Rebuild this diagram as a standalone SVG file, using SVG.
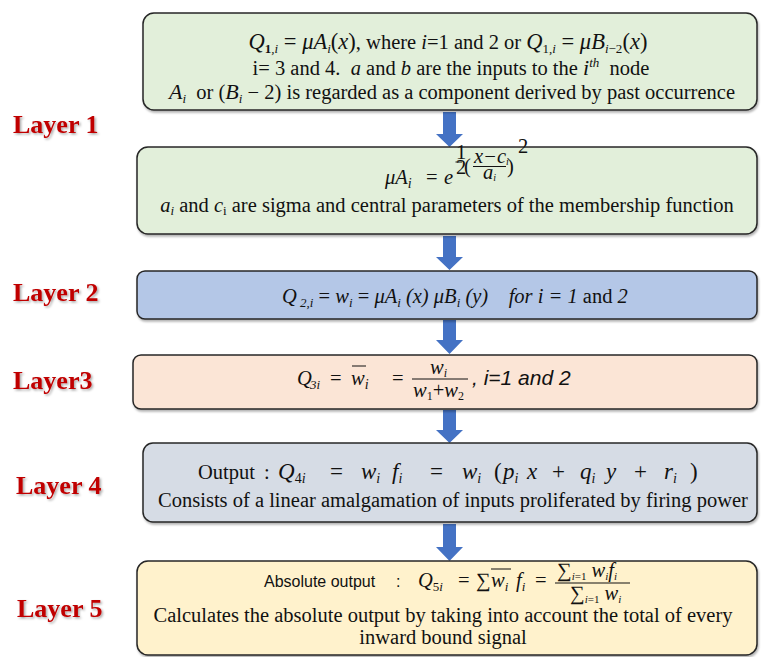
<svg xmlns="http://www.w3.org/2000/svg" width="764" height="657" viewBox="0 0 764 657">
<defs>
<filter id="sh" x="-10%" y="-20%" width="130%" height="150%">
<feDropShadow dx="1.5" dy="1.5" stdDeviation="1" flood-color="#000" flood-opacity="0.35"/>
</filter>
<filter id="bs" x="-5%" y="-10%" width="110%" height="130%">
<feDropShadow dx="1" dy="2" stdDeviation="1" flood-color="#000" flood-opacity="0.3"/>
</filter>
</defs>
<style>
.box{stroke:#262626;stroke-width:1.5;filter:url(#bs)}
.lay{font-family:"Liberation Serif",serif;font-weight:bold;font-size:26px;fill:#c00000;filter:url(#sh)}
.t{font-family:"Liberation Serif",serif;font-size:20.5px;fill:#111}
.m{font-family:"Liberation Serif",serif;font-style:italic}
.s{font-size:13px}
.arr{fill:#4472c4}
.bar{stroke:#111;stroke-width:1}
</style>
<rect width="764" height="657" fill="#fff"/>

<g id="labels">
<text class="lay" x="13" y="133">Layer 1</text>
<text class="lay" x="13" y="301">Layer 2</text>
<text class="lay" x="13" y="389">Layer3</text>
<text class="lay" x="16" y="494">Layer 4</text>
<text class="lay" x="17" y="617">Layer 5</text>
</g>

<g id="connectors">
<polygon class="arr" points="443,112 456,112 456,134 463,134 449.5,147 436,134 443,134"/>
<polygon class="arr" points="443,236 456,236 456,257 463,257 449.5,270 436,257 443,257"/>
<polygon class="arr" points="443,320 456,320 456,340 463,340 449.5,354 436,340 443,340"/>
<polygon class="arr" points="443,410 456,410 456,430 463,430 449.5,443 436,430 443,430"/>
<polygon class="arr" points="443,524 456,524 456,547 463,547 449.5,561 436,547 443,547"/>
</g>

<g id="node1">
<rect class="box" x="143" y="13" width="614" height="97" rx="11" fill="#e2efda"/>
<text class="t" font-size="21" x="448" y="49" text-anchor="middle" xml:space="preserve"><tspan class="m" font-size="22.5">Q</tspan><tspan class="s" dy="4" font-weight="bold">1</tspan><tspan class="s m">,i</tspan><tspan dy="-4" font-size="22.5"> = </tspan><tspan class="m" font-size="22.5">μA</tspan><tspan class="s m" dy="4">i</tspan><tspan dy="-4" font-size="22.5">(</tspan><tspan class="m" font-size="22.5">x</tspan><tspan font-size="22.5">)</tspan>, where <tspan class="m">i</tspan>=1 and 2 or <tspan class="m" font-size="22.5">Q</tspan><tspan class="s" dy="4">1,</tspan><tspan class="s m">i</tspan><tspan dy="-4" font-size="22.5"> = </tspan><tspan class="m" font-size="22.5">μB</tspan><tspan class="s m" dy="4">i</tspan><tspan class="s">−2</tspan><tspan dy="-4" font-size="22.5">(</tspan><tspan class="m" font-size="22.5">x</tspan><tspan font-size="22.5">)</tspan></text>
<text class="t" x="451" y="75" text-anchor="middle" xml:space="preserve">i= 3 and 4.  <tspan class="m">a</tspan> and <tspan class="m">b</tspan> are the inputs to the <tspan class="m" font-size="22">i</tspan><tspan class="s m" dy="-8">th</tspan><tspan dy="8">  node</tspan></text>
<text class="t" x="452" y="99" text-anchor="middle" xml:space="preserve"><tspan class="m" font-size="22">A</tspan><tspan class="s m" dy="4">i</tspan><tspan dy="-4">  or (</tspan><tspan class="m" font-size="22">B</tspan><tspan class="s m" dy="4">i</tspan><tspan dy="-4"> − 2) is regarded as a component derived by past occurrence</tspan></text>
</g>

<g id="node2">
<rect class="box" x="137" y="147" width="620" height="87" rx="11" fill="#e2efda"/>
<text class="t m" font-size="23" x="385" y="184">μA<tspan font-size="14" dy="4">i</tspan></text>
<text class="t" font-size="23" x="426" y="184">=</text>
<text class="t m" font-size="23" x="444" y="184">e</text>
<text class="t" font-size="10.5" x="456" y="159">1</text>
<line class="bar" x1="455.5" y1="162" x2="462" y2="162" stroke-width="0.8"/>
<text class="t" font-size="10.5" x="456" y="174">2</text>
<text class="t" font-size="25" x="464" y="173">(</text>
<text class="t m" font-size="14" x="474" y="163">x−c<tspan font-size="10" dy="2">i</tspan></text>
<line class="bar" x1="473" y1="166.5" x2="506" y2="166.5" stroke-width="0.8"/>
<text class="t m" font-size="14" x="483" y="179">a<tspan font-size="10" dy="2">i</tspan></text>
<text class="t" font-size="25" x="507" y="173">)</text>
<text class="t" font-size="10.5" x="518" y="153">2</text>
<text class="t" x="447" y="212" text-anchor="middle"><tspan class="m">a</tspan><tspan class="s m" dy="3">i</tspan><tspan dy="-3"> and </tspan><tspan class="m">c</tspan><tspan class="s" dy="3">i</tspan><tspan dy="-3"> are sigma and central parameters of the membership function</tspan></text>
</g>

<g id="node3">
<rect class="box" x="137" y="271" width="620" height="48" rx="8" fill="#b4c7e7"/>
<text class="t m" font-size="21" x="282" y="303" xml:space="preserve">Q<tspan font-size="13" dy="4"> 2,i</tspan><tspan dy="-4" font-style="normal"> = </tspan>w<tspan font-size="13" dy="4">i</tspan><tspan dy="-4" font-style="normal"> = </tspan>μA<tspan font-size="13" dy="4">i</tspan><tspan dy="-4"> (x) μB</tspan><tspan font-size="13" dy="4">i</tspan><tspan dy="-4"> (y)    for i = 1 </tspan><tspan font-style="normal">and </tspan>2</text>
</g>

<g id="node4">
<rect class="box" x="133" y="355" width="624" height="54" rx="8" fill="#fbe5d6"/>
<text class="t m" font-size="22" x="297" y="385">Q<tspan font-size="13" dy="4" x="310">3i</tspan></text>
<text class="t" font-size="22" x="330" y="385">=</text>
<text class="t m" font-size="22" x="351" y="385">w<tspan font-size="14" dy="4">i</tspan></text>
<line class="bar" x1="352" y1="366" x2="366" y2="366"/>
<text class="t" font-size="22" x="392" y="385">=</text>
<text class="t m" font-size="18" x="430" y="374">w<tspan font-size="12" dy="3">i</tspan></text>
<line class="bar" x1="412" y1="379" x2="468" y2="379"/>
<text class="t m" font-size="18" x="413" y="397">w<tspan font-size="12" dy="3" font-style="normal">1</tspan><tspan dy="-3" font-style="normal">+</tspan>w<tspan font-size="12" dy="3" font-style="normal">2</tspan></text>
<text font-family="Liberation Sans, sans-serif" font-style="italic" font-size="21" fill="#111" x="472" y="385">, i=1 and 2</text>
</g>

<g id="node5">
<rect class="box" x="143" y="443" width="614" height="79" rx="10" fill="#d6dce5"/>
<text class="t" font-size="22" y="479"><tspan x="198">Output</tspan><tspan x="264">:</tspan><tspan class="m" font-size="23" x="278">Q</tspan><tspan font-size="14" dy="4">4</tspan><tspan class="m" font-size="14">i</tspan><tspan dy="-4" x="330" font-size="23">=</tspan><tspan class="m" font-size="23" x="361">w</tspan><tspan class="m" font-size="14" dy="4">i</tspan><tspan class="m" font-size="23" dy="-4" x="392">f</tspan><tspan class="m" font-size="14" dy="4">i</tspan><tspan dy="-4" x="430" font-size="23">=</tspan><tspan class="m" font-size="23" x="462">w</tspan><tspan class="m" font-size="14" dy="4">i</tspan><tspan dy="-4" x="494" font-size="23">(</tspan><tspan class="m" font-size="23" x="503">p</tspan><tspan class="m" font-size="14" dy="4">i</tspan><tspan class="m" font-size="23" dy="-4" x="527">x</tspan><tspan x="552" font-size="23">+</tspan><tspan class="m" font-size="23" x="580">q</tspan><tspan class="m" font-size="14" dy="4">i</tspan><tspan class="m" font-size="23" dy="-4" x="606">y</tspan><tspan x="634" font-size="23">+</tspan><tspan class="m" font-size="23" x="664">r</tspan><tspan class="m" font-size="14" dy="4">i</tspan><tspan dy="-4" x="690" font-size="23">)</tspan></text>
<text class="t" font-size="20" x="453" y="507" text-anchor="middle">Consists of a linear amalgamation of inputs proliferated by firing power</text>
</g>

<g id="node6">
<rect class="box" x="137" y="561" width="620" height="94" rx="11" fill="#fff2cc"/>
<text font-family="Liberation Sans, sans-serif" font-size="16" y="587" fill="#111"><tspan x="264">Absolute output</tspan><tspan x="396">:</tspan></text>
<text class="t" font-size="21" y="587"><tspan class="m" x="418">Q</tspan><tspan font-size="13" dy="4">5</tspan><tspan class="m" font-size="13">i</tspan><tspan dy="-4" x="458">=</tspan><tspan x="476">∑</tspan><tspan class="m" x="491">w</tspan><tspan class="m" font-size="13" dy="4">i</tspan><tspan class="m" dy="-4" x="516">f</tspan><tspan class="m" font-size="13" dy="4">i</tspan><tspan dy="-4" x="535">=</tspan></text>
<line class="bar" x1="491" y1="569" x2="511" y2="569"/>
<text class="t" font-size="16" x="557" y="577">∑<tspan class="m" font-size="11" dy="3">i</tspan><tspan font-size="11">=1</tspan><tspan class="m" dy="-3"> w</tspan><tspan class="m" font-size="11" dy="3">i</tspan><tspan class="m" dy="-3">f</tspan><tspan class="m" font-size="11" dy="3">i</tspan></text>
<line class="bar" x1="555" y1="583" x2="630" y2="583"/>
<text class="t" font-size="16" x="570" y="600">∑<tspan class="m" font-size="11" dy="3">i</tspan><tspan font-size="11">=1</tspan><tspan class="m" dy="-3"> w</tspan><tspan class="m" font-size="11" dy="3">i</tspan></text>
<text class="t" font-size="20" x="443" y="622" text-anchor="middle">Calculates the absolute output by taking into account the total of every</text>
<text class="t" font-size="20" x="443" y="644" text-anchor="middle">inward bound signal</text>
</g>
</svg>
